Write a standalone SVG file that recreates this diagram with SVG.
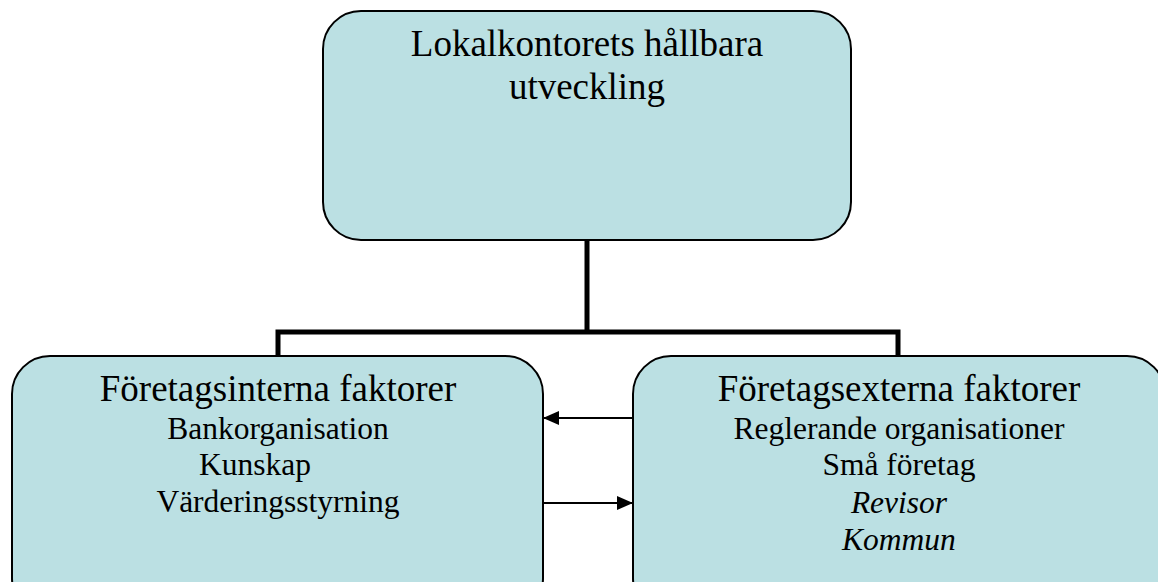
<svg xmlns="http://www.w3.org/2000/svg" width="1158" height="582" viewBox="0 0 1158 582">
<style>
.box{fill:#bbe0e3;stroke:#000;stroke-width:2}
text{fill:#000;text-anchor:middle}
.h{font-size:37px}
.s{font-size:31.5px}
.i{font-style:italic}
.c{stroke:#000;fill:none}
</style>
<defs>
<marker id="ah" viewBox="0 0 16 14" refX="16" refY="7" markerWidth="16" markerHeight="14" markerUnits="userSpaceOnUse" orient="auto"><path d="M0,0 L16,7 L0,14 z" fill="#000"/></marker>
</defs>
<g id="connectors">
<path class="c" d="M587,240 V332 M278,356 V332 H898 V356" stroke-width="5"/>
<line class="c" x1="637" y1="418" x2="543" y2="418" stroke-width="2" marker-end="url(#ah)"/>
<line class="c" x1="537" y1="503" x2="633" y2="503" stroke-width="2" marker-end="url(#ah)"/>
</g>
<g font-family="Liberation Serif, Times New Roman, DejaVu Serif, serif">
<g id="top">
<rect class="box" x="323" y="11" width="528" height="229" rx="38"/>
<text class="h" x="587" y="56">Lokalkontorets hållbara</text>
<text class="h" x="587" y="99">utveckling</text>
</g>
<g id="internal">
<rect class="box" x="12" y="356" width="531" height="260" rx="38"/>
<text class="h" x="278" y="401">Företagsinterna faktorer</text>
<text class="s" x="278" y="439">Bankorganisation</text>
<text class="s" x="255" y="475">Kunskap</text>
<text class="s" x="278" y="512">Värderingsstyrning</text>
</g>
<g id="external">
<rect class="box" x="633" y="356" width="532" height="260" rx="38"/>
<text class="h" x="899" y="401">Företagsexterna faktorer</text>
<text class="s" x="899" y="439">Reglerande organisationer</text>
<text class="s" x="899" y="475">Små företag</text>
<text class="s i" x="899" y="513">Revisor</text>
<text class="s i" x="899" y="550">Kommun</text>
</g>
</g>
</svg>
